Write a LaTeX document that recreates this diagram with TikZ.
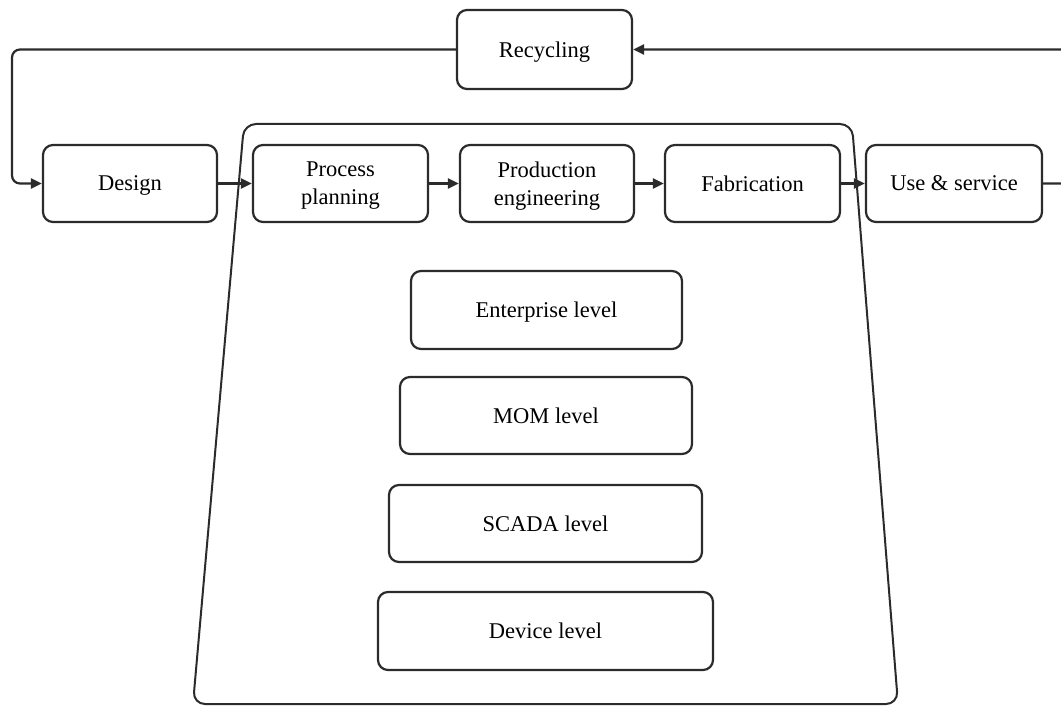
\documentclass[tikz,border=0pt]{standalone}
\usepackage{fontspec}
\setmainfont{Liberation Serif}
\usetikzlibrary{arrows.meta}
\definecolor{ln}{HTML}{2B2B2B}
\begin{document}
\begin{tikzpicture}[x=1pt,y=-1pt,
  box/.style={draw=ln,line width=2.2pt,rounded corners=10pt,inner sep=0pt,align=center,
    font=\fontsize{22.5}{28}\selectfont,text=black,text depth=0pt},
  conn/.style={draw=ln,line width=2.2pt,-{Triangle[length=11pt,width=10pt]}},
  frame/.style={draw=ln,line width=2pt,rounded corners=12pt}]
\useasboundingbox (0,0) rectangle (1061,706);
\clip (0,0) rectangle (1061,706);
% trapezoid
\draw[frame] (244,124) -- (852,124) -- (898,704) -- (193,704) -- cycle;
% top row
\node[box,minimum width=175pt,minimum height=79pt] (rec) at (544.5,49.5) {Recycling};
\node[box,minimum width=174pt,minimum height=77pt] (des) at (130,183.5) {Design};
\node[box,minimum width=175pt,minimum height=77pt] (pp) at (340.5,183.5) {Process\\planning};
\node[box,minimum width=174pt,minimum height=77pt] (pe) at (547,183.5) {Production\\engineering};
\node[box,minimum width=175pt,minimum height=77pt] (fab) at (752.5,183.5) {Fabrication};
\node[box,minimum width=176pt,minimum height=77pt] (use) at (954,183.5) {Use \& service};
% levels
\node[box,minimum width=271pt,minimum height=78pt] (ent) at (546.5,310) {Enterprise level};
\node[box,minimum width=292pt,minimum height=77pt] (mom) at (546,415.5) {MOM level};
\node[box,minimum width=313pt,minimum height=77pt] (sca) at (545.5,523.5) {SCADA level};
\node[box,minimum width=335pt,minimum height=78pt] (dev) at (545.5,631) {Device level};
% flow arrows
\draw[conn] (des) -- (pp);
\draw[conn] (pp) -- (pe);
\draw[conn] (pe) -- (fab);
\draw[conn] (fab) -- (use);
% feedback loop
\coordinate (rt) at (1075,183.5);
\coordinate (rtop) at (1075,49.5);
\coordinate (lt) at (12,49.5);
\coordinate (lb) at (12,183.5);
\draw[conn,rounded corners=8pt] (use.east) -- (rt) -- (rtop) -- (rec.east);
\draw[conn,rounded corners=8pt] (rec.west) -- (lt) -- (lb) -- (des.west);
\end{tikzpicture}
\end{document}
